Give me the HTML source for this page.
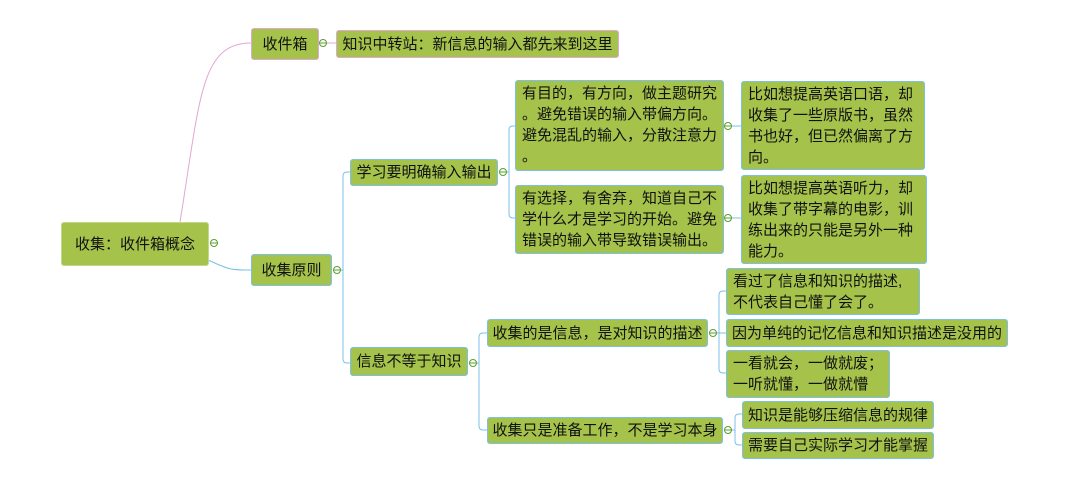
<!DOCTYPE html>
<html><head><meta charset="utf-8"><style>
body{margin:0;width:1066px;height:485px;background:#fff;position:relative;overflow:hidden;font-family:"Liberation Sans","Noto Sans CJK SC",sans-serif;}
.n{position:absolute;box-sizing:border-box;background:#a5c24a;border:1.5px solid #7cc0e8;border-radius:3px;color:#111;font-size:15px;line-height:21px;padding:2px 6px;white-space:nowrap;}
.p{border-color:#e2a6d4;}
.c{display:flex;align-items:center;justify-content:center;padding:0;}
svg{position:absolute;left:0;top:0;}
</style></head><body>
<svg width="1066" height="485" fill="none" stroke-width="1">
<path d="M180 222 C200 100,200 43,251 43" stroke="#e2a6d4"/>
<path d="M318 43 H336" stroke="#e2a6d4"/>
<path d="M208 260 C230 270,230 270,251 270" stroke="#7cc0e8"/>
<g stroke="#7cc0e8">
<path d="M337 270 H343 M350 172 H347 Q343 172 343 176 V359 Q343 363 347 363 H350"/>
<path d="M503 172 H509 M515 126 H513 Q509 126 509 130 V214 Q509 218 513 218 H515"/>
<path d="M728 126 H741 M728 218 H741"/>
<path d="M473 363 H479 M487 333 H483 Q479 333 479 337 V426 Q479 430 483 430 H487"/>
<path d="M713 333 H719 M726 291 H723 Q719 291 719 295 V369 Q719 373 723 373 H726 M719 333 H726"/>
<path d="M728 430 H735 M742 414 H739 Q735 414 735 418 V441 Q735 445 739 445 H742"/>
</g>
<g stroke="#5aa02c" fill="#fff">
<circle cx="214" cy="243" r="3.5"/><circle cx="323" cy="43" r="3.5"/><circle cx="337" cy="270" r="3.5"/>
<circle cx="503" cy="172" r="3.5"/><circle cx="728" cy="126" r="3.5"/><circle cx="728" cy="218" r="3.5"/>
<circle cx="473" cy="363" r="3.5"/><circle cx="713" cy="333" r="3.5"/><circle cx="728" cy="430" r="3.5"/>
</g>
<g stroke="#5aa02c">
<path d="M211 243h6M320 43h6M334 270h6M500 172h6M725 126h6M725 218h6M470 363h6M710 333h6M725 430h6"/>
</g>
</svg>
<div class="n c" style="left:61px;top:222px;width:148px;height:44px;font-size:15px;border-color:#c5d88a">收集：收件箱概念</div>
<div class="n c p" style="left:251px;top:28px;width:68px;height:32px">收件箱</div>
<div class="n c p" style="left:336px;top:30px;width:283px;height:28px">知识中转站：新信息的输入都先来到这里</div>
<div class="n c" style="left:251px;top:254px;width:81px;height:32px">收集原则</div>
<div class="n c" style="left:350px;top:159px;width:148px;height:27px">学习要明确输入输出</div>
<div class="n" style="left:515px;top:80px;width:209px;height:91px">有目的，有方向，做主题研究<br>。避免错误的输入带偏方向。<br>避免混乱的输入，分散注意力<br>。</div>
<div class="n" style="left:515px;top:185px;width:209px;height:69px">有选择，有舍弃，知道自己不<br>学什么才是学习的开始。避免<br>错误的输入带导致错误输出。</div>
<div class="n" style="left:741px;top:81px;width:184px;height:89px">比如想提高英语口语，却<br>收集了一些原版书，虽然<br>书也好，但已然偏离了方<br>向。</div>
<div class="n" style="left:741px;top:175px;width:186px;height:89px">比如想提高英语听力，却<br>收集了带字幕的电影，训<br>练出来的只能是另外一种<br>能力。</div>
<div class="n c" style="left:350px;top:347px;width:118px;height:29px">信息不等于知识</div>
<div class="n c" style="left:487px;top:319px;width:221px;height:28px">收集的是信息，是对知识的描述</div>
<div class="n" style="left:726px;top:268px;width:194px;height:47px;padding-top:2px">看过了信息和知识的描述,<br>不代表自己懂了会了。</div>
<div class="n c" style="left:726px;top:319px;width:282px;height:28px">因为单纯的记忆信息和知识描述是没用的</div>
<div class="n" style="left:726px;top:350px;width:164px;height:48px;padding-top:2px">一看就会，一做就废；<br>一听就懂，一做就懵</div>
<div class="n c" style="left:487px;top:417px;width:236px;height:27px">收集只是准备工作，不是学习本身</div>
<div class="n c" style="left:742px;top:401px;width:192px;height:28px">知识是能够压缩信息的规律</div>
<div class="n c" style="left:742px;top:432px;width:192px;height:27px">需要自己实际学习才能掌握</div>
</body></html>
